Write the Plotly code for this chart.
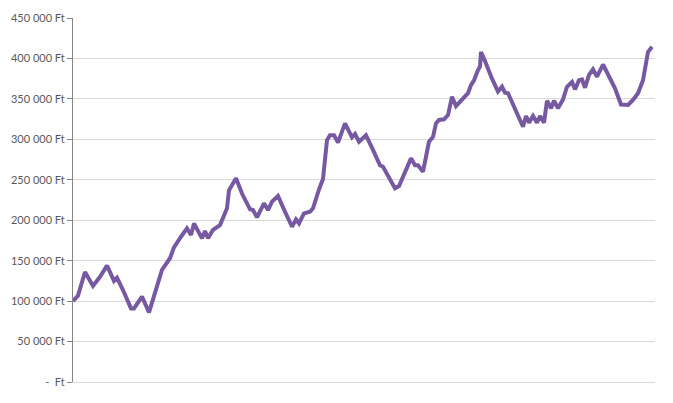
import plotly.graph_objects as go

# Day index and portfolio value in Ft
days = [0, 5, 12, 20, 27, 34, 41, 44, 50, 58, 61, 69, 76, 89, 97, 101, 108, 114, 118, 121,
        129, 132, 135, 140, 147, 154, 156, 163, 169, 177, 180, 184, 191, 195, 199, 205, 212,
        219, 223, 226, 231, 237, 240, 244, 246, 250, 254, 257, 261, 265, 272, 279, 282, 286,
        293, 300, 307, 310, 316, 322, 326, 330, 338, 342, 345, 350, 356, 360, 363, 366, 371,
        375, 379, 383, 392, 395, 398, 401, 405, 407, 408, 411, 419, 425, 429, 432, 435, 443,
        450, 453, 456, 460, 464, 467, 471, 474, 478, 481, 485, 490, 494, 499, 502, 506, 509,
        512, 516, 520, 524, 530, 537, 542, 548, 555, 560, 565, 570, 575, 579]
values = [100000, 106700, 136000, 118700, 130000, 143800, 125000, 129000, 113700, 91000,
          91000, 105500, 86000, 138500, 153000, 166500, 179600, 190000, 181700, 196000,
          177600, 186700, 177600, 188000, 194000, 214700, 237000, 251800, 233000, 213500,
          212600, 203600, 220900, 212600, 223000, 230000, 210500, 192000, 201000, 196000,
          208500, 210500, 214700, 233000, 238000, 251000, 299000, 305000, 305000, 296000,
          319800, 302500, 306600, 297000, 305000, 287000, 268000, 266000, 251800, 239400,
          242300, 253800, 276500, 268000, 268000, 260000, 297000, 303000, 319800, 324000,
          324800, 330000, 352700, 341000, 352700, 357000, 367000, 373000, 385700, 390000,
          408000, 400000, 375000, 359000, 365000, 357600, 357000, 336000, 315600, 328900,
          320600, 328900, 320600, 328900, 320600, 347800, 338400, 347800, 338400, 349400,
          365000, 371000, 361800, 373000, 374000, 363800, 379600, 386600, 377400, 392500,
          375000, 363000, 343000, 342500, 348600, 357000, 373000, 408000, 414500]

tick_vals = [0, 50000, 100000, 150000, 200000, 250000, 300000, 350000, 400000, 450000]
tick_text = ["-  Ft", "50 000 Ft", "100 000 Ft", "150 000 Ft", "200 000 Ft", "250 000 Ft",
             "300 000 Ft", "350 000 Ft", "400 000 Ft", "450 000 Ft"]

fig = go.Figure(go.Scatter(
    x=days, y=values, mode="lines",
    line=dict(color="#7759A3", width=4, shape="linear"),
    hoverinfo="skip",
))

fig.update_layout(
    width=673, height=403,
    margin=dict(l=73, r=18, t=18, b=21),
    paper_bgcolor="white", plot_bgcolor="white",
    showlegend=False,
    font=dict(family="Lato, Carlito, 'Open Sans', sans-serif", size=11, color="#595959"),
)
fig.update_xaxes(range=[0, 582], showgrid=False, showticklabels=False, zeroline=False,
                 showline=True, linecolor="#D9D9D9", linewidth=1, ticks="")
fig.update_yaxes(range=[0, 450000], tickvals=tick_vals, ticktext=tick_text,
                 showgrid=True, gridcolor="#D9D9D9", gridwidth=1, zeroline=False,
                 showline=True, linecolor="#868686", linewidth=1,
                 ticks="outside", ticklen=5, tickcolor="#868686")

fig.write_html("out.html", config={"displayModeBar": False},
               post_script="document.body.style.margin='0';")
